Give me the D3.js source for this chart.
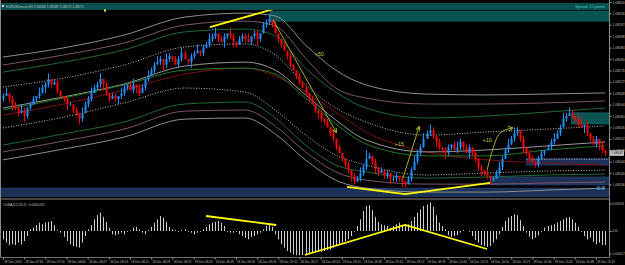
<!DOCTYPE html>
<html><head><meta charset="utf-8">
<script src="https://cdn.jsdelivr.net/npm/d3@7"></script>
<style>html,body{margin:0;padding:0;background:#000;overflow:hidden}svg{display:block}</style>
</head><body>
<svg id="c" width="625" height="265"></svg>
<script>
// ---------- DATA ----------
// closes in points above 1.08500 (1 point = 0.00001)
const closes = [
67,68,66,64,63,61,62,60,63,64,
66,67,68,70,71,73,71,72,69,67,
66,64,64,62,61,59,61,64,66,68,
70,71,73,71,68,66,67,66,67,68,
70,71,69,71,70,68,70,73,74,76,
78,79,80,78,80,81,80,78,80,82,
80,79,81,82,83,82,84,85,87,88,
89,87,86,88,89,88,86,85,87,88,
87,86,88,89,87,89,92,93,94,92,
89,87,85,83,81,78,76,74,72,70,
68,66,64,62,61,59,58,56,54,52,
49,47,45,43,41,39,37,38,40,42,
45,46,44,42,40,41,39,40,38,38,
39,38,37,36,38,41,44,47,49,52,
54,55,53,51,49,48,47,49,50,48,
49,51,49,47,49,47,45,42,41,40,
39,38,38,40,42,45,48,50,52,54,
55,52,49,47,45,44,43,45,47,48,
49,51,52,54,56,59,60,61,60,59,
57,56,57,54,52,50,52,50,48,47];
const firstOpen = 66;
const hiWick = [
1,2,0,1,1,0,2,1,0,1, 1,0,2,1,1,2,0,1,1,0, 0,1,1,0,1,0,2,1,1,2, 1,1,2,0,1,0,1,1,0,2,
1,0,1,2,0,1,1,0,2,1, 1,2,1,0,2,1,0,1,1,2, 1,0,1,1,2,0,1,1,2,1, 2,0,1,1,0,2,1,0,1,1,
1,2,0,1,1,0,1,1,2,0, 1,0,0,1,0,1,0,0,1,0, 1,0,1,0,0,1,0,1,0,1, 0,1,0,0,1,0,1,1,2,1,
3,1,0,1,0,1,0,1,0,1, 1,0,1,0,1,1,2,1,1,2, 1,2,1,0,1,0,1,1,0,1, 2,1,0,1,1,0,1,0,1,0,
1,0,1,1,2,1,1,2,1,2, 1,0,1,0,1,1,0,1,1,0, 1,1,2,1,1,2,1,2,1,0, 1,2,0,1,0,1,1,0,1,0];
const loWick = [
1,0,1,2,1,1,0,2,1,1, 0,1,1,0,2,1,1,0,1,1, 1,2,0,1,1,2,1,0,1,1, 0,1,1,2,1,1,0,1,2,1,
1,1,0,1,2,1,0,1,1,0, 1,0,1,2,1,1,1,0,1,1, 0,1,2,1,0,1,1,0,1,1, 1,1,0,2,1,1,2,1,0,1,
1,0,1,1,2,1,0,1,1,1, 0,1,1,0,1,1,0,1,1,0, 1,1,0,1,2,1,1,0,1,1, 1,0,1,1,1,2,1,0,1,1,
1,0,1,2,1,0,1,1,2,1, 1,1,2,1,0,1,0,1,1,0, 0,1,1,2,1,1,2,1,1,0, 1,1,1,0,2,1,1,1,2,1,
1,2,1,0,1,1,0,1,0,1, 1,1,2,1,1,0,1,1,0,1, 0,1,1,0,1,0,1,0,1,1, 1,0,2,1,1,0,1,2,1,1];
// OsMA values in units of 0.000001
const osma = [
-10,-14,-17,-16,-17,-14,-16,-12,-6,2, 4,7,10,8,10,11,12,7,1,-2,
-7,-12,-16,-18,-19,-20,-14,-6,2,7, 14,19,22,17,11,4,-4,-5,-4,-2,
-4,-1,1,4,5,2,-2,-4,1,5, 10,14,18,16,11,5,2,1,-1,1,
2,-1,-2,-4,-2,-1,2,5,8,10, 11,12,10,6,-1,-2,-2,-1,-4,-6,
-8,-10,-7,-6,-4,-2,2,6,8,5, -4,-10,-16,-20,-24,-26,-28,-29,-29,-29,
-28,-28,-26,-26,-25,-25,-24,-23,-22,-20, -18,-17,-14,-12,-10,-6,-1,6,14,24,
30,31,25,17,11,8,7,6,4,6, 8,10,7,6,8,12,17,22,26,30,
32,34,29,19,10,6,2,-5,-7,-6, -5,-2,1,0,-1,-6,-11,-14,-17,-18,
-19,-18,-14,-10,-4,5,12,16,18,20, 19,13,6,-2,-7,-10,-8,-5,-1,4,
6,7,8,10,12,14,16,17,14,10, 5,-1,-6,-10,-8,-13,-16,-14,-17,-16.7];
// band knots (bar index) and band values (points above 1.08500)
const bandKnots  = [0,20,40,60,80,90,100,110,120,140,160,180,199];
const upperGray  = [80.7,83.9,88.4,94.7,96.1,95.1,84.9,76.1,70.9,67.7,67.4,67.7,68.1];
const upperMauve = [77.9,81.4,85.6,91.9,93.3,91.6,80.3,69.8,66.3,64.2,64.2,64.6,65.3];
const upperGreen = [75.4,78.9,83.2,89.5,90.5,88.1,76.8,68.4,62.8,59.3,60.0,61.4,62.8];
const upperDots  = [70.2,73.3,77.9,84.2,85.3,81.4,70.9,62.8,57.9,53.3,54.4,55.4,56.5];
const centerLine = [62.8,66.7,71.2,77.5,78.9,76.1,67.4,58.6,51.6,47.4,48.1,49.5,50.9];
const fastMA     = [62.1,66.3,70.9,76.1,76.8,74.7,66.3,57.2,50.2,46.0,46.0,48.1,49.5];
const slowMA     = [60.3,64.2,69.1,74.7,76.8,74.0,68.4,61.4,54.4,47.4,44.6,43.5,42.8];
const lowerDots  = [55.8,59.6,64.6,69.8,68.4,62.1,53.3,46.3,42.8,39.3,40.0,40.7,41.0];
const lowerGreen = [49.8,53.7,57.9,64.2,64.9,59.3,49.8,42.8,40.4,38.2,38.6,39.3,39.6];
const lowerMauve = [47.4,51.2,55.4,61.7,62.1,56.5,47.4,40.4,37.5,36.1,36.1,36.5,36.8];
const lowerGray  = [44.6,48.4,52.6,58.9,59.3,53.7,44.6,37.5,34.7,33.3,33.3,34.0,34.7];
// zones: [startBar, endBar, topPoints, bottomPoints]
const tealZones = [[88.3,201,96.8,93.3],[188,201,61.1,57.2]];
const blueZones = [[-2,201,34.7,31.8],[161,201,38.6,35.8],[173,201,45.0,42.8]];
// trend lines [bar, points]
const yellowTop = [[68.4,91.2],[89.3,97.5]];
const yellowBottom = [[113.7,35.1],[132.9,32.6],[161,36.5]];
const yellowOsma1 = [[67.1,18],[90.3,7.2]];
const yellowOsma2 = [[99.8,-28.8],[132.9,7.2],[160,-21.6]];
const olive1 = [[89.3,93.7],[110.1,54.4]];
const olive2 = [[132.2,38.2],[137.5,56.1]];
const olive3 = [[160,41.0],[164.3,54.0],[168.3,55.8]];
const profitLabels = [["+50",103,81],["+15",129.5,49.5],["+10",158.5,50.9]];
const priceTickLabels = ["1.08600","1.08596","1.08592","1.08588","1.08584","1.08580","1.08576","1.08572","1.08568",
  "1.08564","1.08560","1.08556","1.08552","1.08548","1.08544","1.08540","1.08536"];
const osmaTickValues = [33,0,-27];
const osmaTickLabels = ["0.000033","0.00","-0.000027"];
const timeLabels = ["18 Dec 2015","18 Dec 07:46","18 Dec 07:53","18 Dec 08:00","18 Dec 08:07","18 Dec 08:14",
  "18 Dec 08:21","18 Dec 08:28","18 Dec 08:35","18 Dec 08:42","18 Dec 08:49","18 Dec 08:56","18 Dec 09:03",
  "18 Dec 09:10","18 Dec 09:17","18 Dec 09:24","18 Dec 09:31","18 Dec 09:38","18 Dec 09:45","18 Dec 09:52",
  "18 Dec 09:59","18 Dec 10:06","18 Dec 10:13","18 Dec 10:20","18 Dec 10:27","18 Dec 10:34","18 Dec 10:41",
  "18 Dec 10:48","18 Dec 10:55"];

// ---------- DRAW ----------
const P0 = 1.085, PT = 0.00001;
const toPrice = p => P0 + p*PT;
const opens = [firstOpen, ...closes.slice(0,-1)];
const svg = d3.select("#c");
const W = 609;
const x = d3.scaleLinear().domain([0,199]).range([3,605]);
const y = d3.scaleLinear().domain([1.08532,1.08600]).range([195.8,2]);
const yo = d3.scaleLinear().domain([-30,0]).range([256,231]);
const font = "'Liberation Sans', Arial, sans-serif";

svg.append("rect").attr("width",625).attr("height",265).attr("fill","#000");
const defs = svg.append("defs");
defs.append("clipPath").attr("id","mainClip").append("rect").attr("x",1).attr("y",0).attr("width",W-1).attr("height",198);
defs.append("clipPath").attr("id","oClip").append("rect").attr("x",1).attr("y",200).attr("width",W-1).attr("height",57);
defs.append("marker").attr("id","arr").attr("viewBox","0 0 6 6").attr("refX",5).attr("refY",3)
  .attr("markerWidth",5).attr("markerHeight",5).attr("orient","auto")
  .append("path").attr("d","M0,0L6,3L0,6").attr("fill","none").attr("stroke","#b5b52a").attr("stroke-width",1.2);

const main = svg.append("g").attr("clip-path","url(#mainClip)");

// zones
main.selectAll(".bz").data(blueZones).join("rect")
  .attr("x",d=>x(d[0])).attr("width",d=>x(d[1])-x(d[0]))
  .attr("y",d=>y(toPrice(d[2]))).attr("height",d=>y(toPrice(d[3]))-y(toPrice(d[2])))
  .attr("fill","#1c3158").attr("stroke","#2c4a80").attr("stroke-width",0.6);
main.append("line").attr("x1",x(blueZones[2][0])).attr("x2",W).attr("y1",y(toPrice(blueZones[2][2]))+0.5).attr("y2",y(toPrice(blueZones[2][2]))+0.5)
  .attr("stroke","#d8d8d8").attr("stroke-width",0.8).attr("stroke-dasharray","1,1.5");
// header band
svg.append("rect").attr("x",1).attr("y",3).attr("width",W-1).attr("height",7).attr("fill","#0b4f4f");
main.selectAll(".tz").data(tealZones).join("rect")
  .attr("x",d=>x(d[0])).attr("width",d=>x(d[1])-x(d[0]))
  .attr("y",d=>y(toPrice(d[2]))).attr("height",d=>y(toPrice(d[3]))-y(toPrice(d[2])))
  .attr("fill","#0b5353").attr("stroke","#137070").attr("stroke-width",0.6);

// bands
const bandLine = vals => d3.line().x((d,k)=>x(bandKnots[k])).y(d=>y(toPrice(d))).curve(d3.curveMonotoneX)(vals);
const bands = [
  [upperGray,"#8e8e8e",null],[upperMauve,"#7c5566",null],[upperGreen,"#1f6a35",null],[upperDots,"#bdbdbd","1,1.6"],
  [slowMA,"#7e1010",null],[centerLine,"#9a9a9a",null],[fastMA,"#1d7a22",null],
  [lowerDots,"#bdbdbd","1,1.6"],[lowerGreen,"#1f6a35",null],[lowerMauve,"#7c5566",null],[lowerGray,"#8e8e8e",null]];
bands.forEach(([vals,col,dash])=>{
  main.append("path").attr("d",bandLine(vals)).attr("fill","none").attr("stroke",col)
    .attr("stroke-width",1).attr("stroke-dasharray",dash);
});

// candles
const bars = closes.map((c,i)=>{const o=opens[i];return {i,o:toPrice(o),c:toPrice(c),
  h:toPrice(Math.max(o,c)+hiWick[i]),l:toPrice(Math.min(o,c)-loWick[i]),up:c>=o};});
const cg = main.append("g");
cg.selectAll(".w").data(bars).join("line")
  .attr("x1",d=>Math.round(x(d.i))+0.5).attr("x2",d=>Math.round(x(d.i))+0.5)
  .attr("y1",d=>y(d.h)).attr("y2",d=>y(d.l))
  .attr("stroke",d=>d.up?"#1e90ff":"#ff0000").attr("stroke-width",1);
cg.selectAll(".b").data(bars).join("rect")
  .attr("x",d=>Math.round(x(d.i))-0.5).attr("width",2)
  .attr("y",d=>y(Math.max(d.o,d.c))).attr("height",d=>Math.max(1,Math.abs(y(d.o)-y(d.c))))
  .attr("fill",d=>d.up?"#1e90ff":"#ff0000");

// trend lines
const pl = d3.line().x(d=>x(d[0])).y(d=>y(toPrice(d[1])));
const ol = d3.line().x(d=>x(d[0])).y(d=>yo(d[1]));
[yellowTop,yellowBottom].forEach(l=>main.append("path").attr("d",pl(l)).attr("fill","none").attr("stroke","#ffff00").attr("stroke-width",1.8));
[olive1,olive2].forEach(l=>main.append("path").attr("d",pl(l)).attr("fill","none").attr("stroke","#a8a828").attr("stroke-width",1).attr("marker-end","url(#arr)"));
main.append("path").attr("d",d3.line().x(d=>x(d[0])).y(d=>y(toPrice(d[1]))).curve(d3.curveMonotoneX)(olive3))
  .attr("fill","none").attr("stroke","#a8a828").attr("stroke-width",1).attr("marker-end","url(#arr)");
main.selectAll(".pl").data(profitLabels).join("text")
  .attr("x",d=>x(d[1])).attr("y",d=>y(toPrice(d[2]))).text(d=>d[0])
  .attr("fill","#c8c832").attr("font-size",5.5).attr("font-family",font);
main.append("text").attr("x",605).attr("y",y(toPrice(34))).attr("text-anchor","end").text("0.0")
  .attr("fill","#5ab4e0").attr("font-size",6).attr("font-family",font);

// header texts
svg.append("rect").attr("x",2).attr("y",5).attr("width",2).attr("height",2).attr("fill","#e0e0e0");
svg.append("text").attr("x",6).attr("y",8.3).text("EURUSDmicro,M1  1.08580 1.08589 1.08573 1.08575")
  .attr("fill","#b8c8c8").attr("font-size",3.8).attr("font-family",font)
  .attr("textLength",78).attr("lengthAdjust","spacingAndGlyphs");
svg.append("text").attr("x",605).attr("y",8.3).attr("text-anchor","end").text("Spread: 15 points")
  .attr("fill","#45d0d0").attr("font-size",3.8).attr("font-family",font);
svg.append("rect").attr("x",104).attr("y",9.5).attr("width",2).attr("height",2).attr("fill","#ffff00");

// separators / frame
svg.append("line").attr("x1",1).attr("x2",W).attr("y1",199).attr("y2",199).attr("stroke","#8a8a8a").attr("stroke-width",1.2);
svg.append("line").attr("x1",1).attr("x2",W).attr("y1",257.5).attr("y2",257.5).attr("stroke","#8a8a8a").attr("stroke-width",0.8);
svg.append("line").attr("x1",0.5).attr("x2",0.5).attr("y1",0).attr("y2",257.5).attr("stroke","#8a8a8a").attr("stroke-width",1);
svg.append("line").attr("x1",W+0.5).attr("x2",W+0.5).attr("y1",0).attr("y2",257.5).attr("stroke","#8a8a8a").attr("stroke-width",1);

// OsMA
const og = svg.append("g").attr("clip-path","url(#oClip)");
og.selectAll(".ob").data(osma).join("line")
  .attr("x1",(d,i)=>Math.round(x(i))+0.5).attr("x2",(d,i)=>Math.round(x(i))+0.5)
  .attr("y1",yo(0)).attr("y2",d=>yo(d)).attr("stroke","#cfcfcf").attr("stroke-width",1);
[yellowOsma1,yellowOsma2].forEach(l=>og.append("path").attr("d",ol(l)).attr("fill","none").attr("stroke","#ffff00").attr("stroke-width",1.8));
svg.append("text").attr("x",3).attr("y",205.5).text("OsMA(12,26,9) -0.0000167")
  .attr("fill","#bdbdbd").attr("font-size",3.8).attr("font-family",font)
  .attr("textLength",42).attr("lengthAdjust","spacingAndGlyphs");

// price axis
const pa = svg.append("g").attr("transform",`translate(${W+0.5},0)`)
  .call(d3.axisRight(y).tickValues(priceTickLabels.map(Number)).tickFormat((d,i)=>priceTickLabels[i]).tickSize(2).tickPadding(1));
pa.select(".domain").remove();
pa.selectAll("line").attr("stroke","#9a9a9a");
pa.selectAll("text").attr("fill","#bdbdbd").attr("font-size",3.4).attr("font-family",font);
// current price
const lastP = toPrice(closes[closes.length-1]);
svg.append("rect").attr("x",W+1).attr("y",y(lastP)-2.8).attr("width",14).attr("height",5.6).attr("fill","#c8c8c8");
svg.append("text").attr("x",W+2).attr("y",y(lastP)+1.3).text(lastP.toFixed(5))
  .attr("fill","#000").attr("font-size",3.4).attr("font-family",font);
// osma axis
const oa = svg.append("g").attr("transform",`translate(${W+0.5},0)`)
  .call(d3.axisRight(yo).tickValues(osmaTickValues).tickFormat((d,i)=>osmaTickLabels[i]).tickSize(2).tickPadding(0.6));
oa.select(".domain").remove();
oa.selectAll("line").attr("stroke","#9a9a9a");
oa.selectAll("text").attr("fill","#bdbdbd").attr("font-size",2.8).attr("font-family",font);
// time axis
const tIdx = timeLabels.map((t,k)=>k*7);
const ta = svg.append("g").attr("transform","translate(0,257.5)")
  .call(d3.axisBottom(x).tickValues(tIdx).tickFormat((d,i)=>timeLabels[i]).tickSize(2).tickPadding(1.2));
ta.select(".domain").remove();
ta.selectAll("line").attr("stroke","#9a9a9a");
ta.selectAll("text").attr("text-anchor","start").attr("dx",0.5).attr("fill","#bdbdbd").attr("font-size",3.8).attr("font-family",font)
  .attr("textLength",18).attr("lengthAdjust","spacingAndGlyphs");
</script>
</body></html>
